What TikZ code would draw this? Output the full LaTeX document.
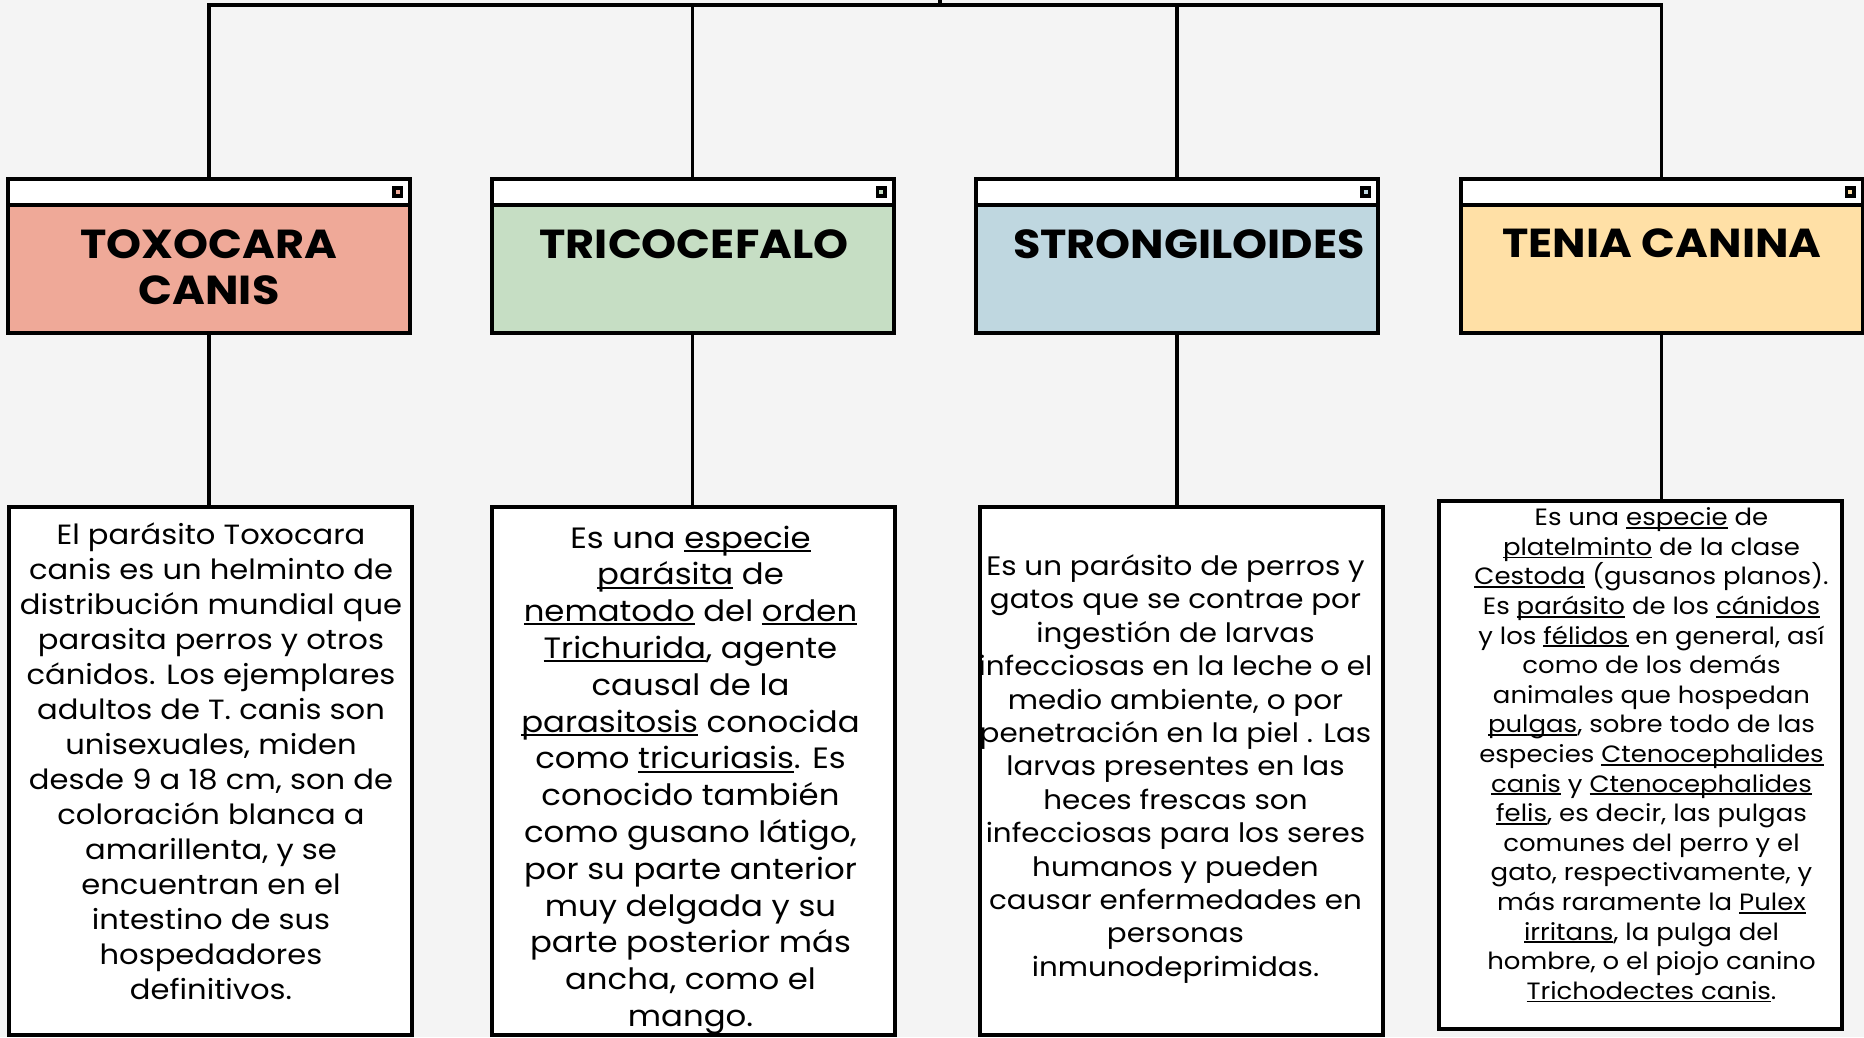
\documentclass[tikz,border=0pt]{standalone}
\usepackage{fontspec}
\setmainfont[FakeStretch=1.1]{Poppins}
\definecolor{paper}{HTML}{F4F4F4}
\definecolor{toxoC}{HTML}{EFA998}
\definecolor{tricoC}{HTML}{C6DEC4}
\definecolor{strongiC}{HTML}{BFD7E0}
\definecolor{teniaC}{HTML}{FFE0A6}
\newsavebox\lnkbox
\newcommand\lnk[1]{\sbox\lnkbox{#1}\rlap{\rule[-.13em]{\wd\lnkbox}{.07em}}\usebox\lnkbox}
\tikzset{
  frame/.style={draw=black, line width=4pt},
  titlebox/.style={frame, minimum width=402pt, minimum height=154pt, inner sep=0pt, outer sep=0pt},
  textbox/.style={frame, fill=white, minimum width=403pt, minimum height=528pt, inner sep=0pt, outer sep=0pt},
  titletext/.style={anchor=north, inner sep=0pt, align=center, font=\fontsize{40.5}{46}\selectfont\bfseries},
  bodytext/.style={inner sep=0pt, align=center},
  link/.style={draw=black, line width=3.5pt}
}
\begin{document}
\begin{tikzpicture}[x=1pt, y=-1pt]
        \fill[paper] (0,0) rectangle (1864,1037);
        \useasboundingbox (0,0) rectangle (1864,1037);
        \def\head{25.5}
        % title windows
        \node[titlebox, fill=toxoC] (Toxo) at (209,256) {};
        \node[titlebox, fill=tricoC] (Trico) at (692.5,256) {};
        \node[titlebox, fill=strongiC] (Strongi) at (1177,256) {};
        \node[titlebox, fill=teniaC] (Tenia) at (1661.5,256) {};
        \foreach \n/\c in {Toxo/toxoC, Trico/tricoC, Strongi/strongiC, Tenia/teniaC}{
            \fill[white] ([shift={(2,2)}]\n.north west) rectangle ([shift={(-2,\head)}]\n.north east);
            \draw[frame] ([shift={(0,\head)}]\n.north west) -- ([shift={(0,\head)}]\n.north east);
            \fill[black] ([shift={(-18,7)}]\n.north east) rectangle ([shift={(-7,19)}]\n.north east);
            \fill[\c] ([shift={(-14.5,11)}]\n.north east) rectangle ([shift={(-10.5,15)}]\n.north east);
        }
        \node[titletext] (ToxoT) at (209,229) {TOXOCARA\\CANIS};
        \node[titletext] (TricoT) at (694,229) {TRICOCEFALO};
        \node[titletext] (StrongiT) at (1189,229) {STRONGILOIDES};
        \node[titletext] (TeniaT) at (1662,229) {TENIA CANINA};
        % text windows
        \node[textbox] (ToxoD) at (210,771) {};
        \node[textbox] (TricoD) at (693.5,771) {};
        \node[textbox] (StrongiD) at (1181.5,771) {};
        \node[textbox] (TeniaD) at (1640.5,764.5) {};
        % connectors
        \coordinate (Root) at (940,-5);
        \coordinate (Hub) at (940,5);
        \draw[link] (Root) -- (Hub);
        \foreach \n in {Toxo, Trico, Strongi, Tenia}{
            \draw[link] (\n.north) |- (Hub);
            \draw[link] (\n.south) -- (\n.south |- \n D.north);
        }
        % texts
        \node[bodytext, font=\fontsize{27.8}{35}\selectfont] (ToxoB) at ([shift={(1,-10)}]ToxoD.center) {El parásito Toxocara\\
            canis es un helminto de\\
            distribución mundial que\\
            parasita perros y otros\\
            cánidos. Los ejemplares\\
            adultos de T. canis son\\
            unisexuales, miden\\
            desde 9 a 18 cm, son de\\
            coloración blanca a\\
            amarillenta, y se\\
            encuentran en el\\
            intestino de sus\\
            hospedadores\\
            definitivos.};
        \node[bodytext, font=\fontsize{29.4}{36.8}\selectfont] (TricoB) at ([shift={(-3,9)}]TricoD.center) {Es una \lnk{especie}\\
            \lnk{parásita} de\\
            \lnk{nematodo} del \lnk{orden}\\
            \lnk{Trichurida}, agente\\
            causal de la\\
            \lnk{parasitosis} conocida\\
            como \lnk{tricuriasis}. Es\\
            conocido también\\
            como gusano látigo,\\
            por su parte anterior\\
            muy delgada y su\\
            parte posterior más\\
            ancha, como el\\
            mango.};
        \node[bodytext, font=\fontsize{26.7}{33.4}\selectfont] (StrongiB) at ([shift={(-6,-2)}]StrongiD.center) {Es un parásito de perros y\\
            gatos que se contrae por\\
            ingestión de larvas\\
            infecciosas en la leche o el\\
            medio ambiente, o por\\
            penetración en la piel . Las\\
            larvas presentes en las\\
            heces frescas son\\
            infecciosas para los seres\\
            humanos y pueden\\
            causar enfermedades en\\
            personas\\
            inmunodeprimidas.};
        \node[bodytext, font=\fontsize{23.6}{29.6}\selectfont] (TeniaB) at ([shift={(11,-9.5)}]TeniaD.center) {Es una \lnk{especie} de\\
            \lnk{platelminto} de la clase\\
            \lnk{Cestoda} (gusanos planos).\\
            Es \lnk{parásito} de los \lnk{cánidos}\\
            y los \lnk{félidos} en general, así\\
            como de los demás\\
            animales que hospedan\\
            \lnk{pulgas}, sobre todo de las\\
            especies \lnk{Ctenocephalides}\\
            \lnk{canis} y \lnk{Ctenocephalides}\\
            \lnk{felis}, es decir, las pulgas\\
            comunes del perro y el\\
            gato, respectivamente, y\\
            más raramente la \lnk{Pulex}\\
            \lnk{irritans}, la pulga del\\
            hombre, o el piojo canino\\
            \lnk{Trichodectes canis}.};
\end{tikzpicture}
\end{document}
